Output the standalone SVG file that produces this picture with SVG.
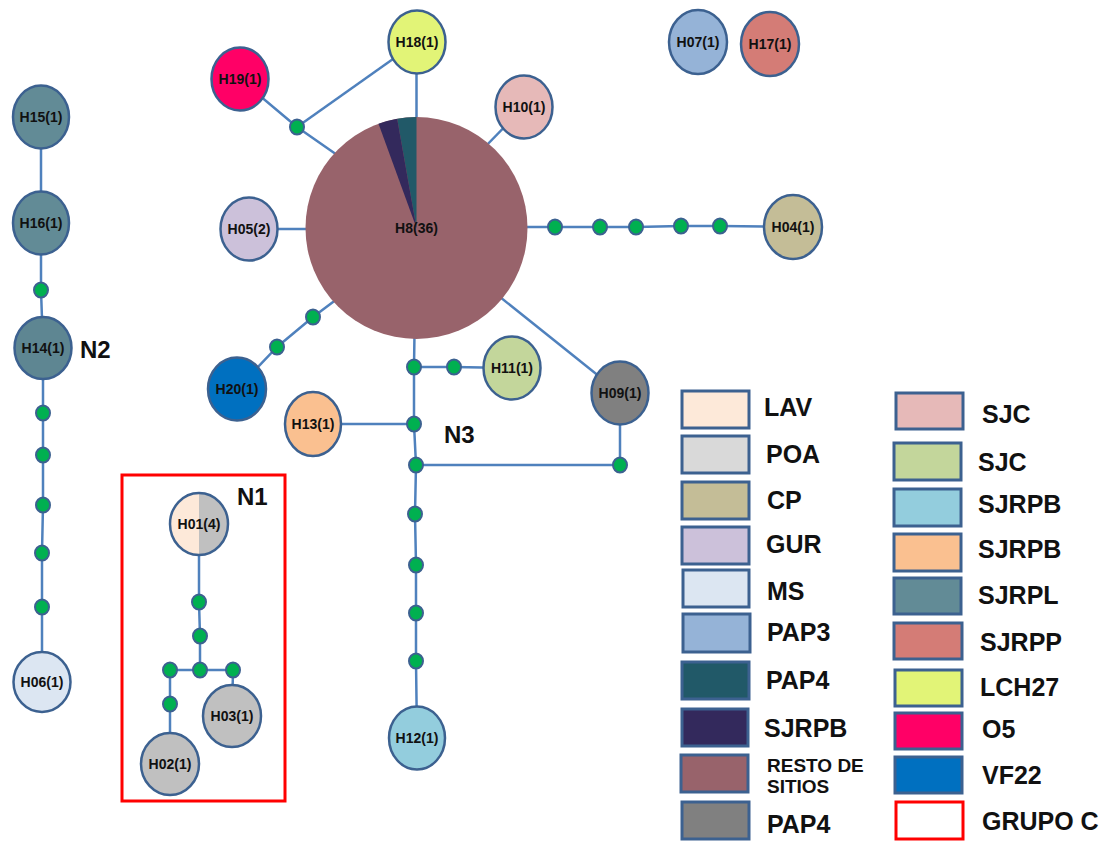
<svg xmlns="http://www.w3.org/2000/svg" width="1110" height="842" viewBox="0 0 1110 842">
<style>
.e{fill:none;stroke:#4f81bd;stroke-width:2.5;stroke-linejoin:round}
.n{stroke:#3c6190;stroke-width:2.5}
.d{fill:#00b050;stroke:#3c6190;stroke-width:2}
.t{font-family:"Liberation Sans",Arial,sans-serif;font-weight:bold;font-size:14px;fill:#111;text-anchor:middle}
.L{font-family:"Liberation Sans",Arial,sans-serif;font-weight:bold;font-size:25px;fill:#111}
.s{font-family:"Liberation Sans",Arial,sans-serif;font-weight:bold;font-size:19px;fill:#111}
.g{font-family:"Liberation Sans",Arial,sans-serif;font-weight:bold;font-size:24px;fill:#111}
.b{stroke:#3c6190;stroke-width:3}
</style>
<rect width="1110" height="842" fill="#fff"/>
<g id="connectors">
<polyline class="e" points="240,79 297,127 340,157"/>
<line class="e" x1="417" y1="42" x2="297" y2="127"/>
<line class="e" x1="416.5" y1="42" x2="416.5" y2="200"/>
<line class="e" x1="524" y1="107" x2="482" y2="150"/>
<line class="e" x1="249" y1="229" x2="330" y2="229"/>
<polyline class="e" points="500,227 555,227 600,227 636,227 681,226 720,226 793,227"/>
<polyline class="e" points="345,293 313,317 277,347 237,389"/>
<polyline class="e" points="415,300 414,367 414,424 416,465 415,514 416,565 416,613 416,661 417,738"/>
<polyline class="e" points="414,367 454,367 512,368"/>
<line class="e" x1="313" y1="424" x2="414" y2="424"/>
<polyline class="e" points="416,465 620,465 620,393"/>
<line class="e" x1="495" y1="293" x2="620" y2="393"/>
<polyline class="e" points="41,117 41,223 41,290 43,348 43,413 43,455 43,505 42,553 42,607 42,682"/>
<polyline class="e" points="199,524 199,602 200,636 200,670"/>
<polyline class="e" points="170,670 233,670"/>
<line class="e" x1="233" y1="670" x2="232" y2="716"/>
<polyline class="e" points="170,670 170,704 170,764"/>
</g>
<g id="median-vectors">
<ellipse class="d" cx="297" cy="127" rx="7" ry="7.5"/>
<ellipse class="d" cx="555" cy="227" rx="7" ry="7.5"/>
<ellipse class="d" cx="600" cy="227" rx="7" ry="7.5"/>
<ellipse class="d" cx="636" cy="227" rx="7" ry="7.5"/>
<ellipse class="d" cx="681" cy="226" rx="7" ry="7.5"/>
<ellipse class="d" cx="720" cy="226" rx="7" ry="7.5"/>
<ellipse class="d" cx="313" cy="317" rx="7" ry="7.5"/>
<ellipse class="d" cx="277" cy="347" rx="7" ry="7.5"/>
<ellipse class="d" cx="414" cy="367" rx="7" ry="7.5"/>
<ellipse class="d" cx="454" cy="367" rx="7" ry="7.5"/>
<ellipse class="d" cx="414" cy="424" rx="7" ry="7.5"/>
<ellipse class="d" cx="416" cy="465" rx="7" ry="7.5"/>
<ellipse class="d" cx="620" cy="465" rx="7" ry="7.5"/>
<ellipse class="d" cx="415" cy="514" rx="7" ry="7.5"/>
<ellipse class="d" cx="416" cy="565" rx="7" ry="7.5"/>
<ellipse class="d" cx="416" cy="613" rx="7" ry="7.5"/>
<ellipse class="d" cx="416" cy="661" rx="7" ry="7.5"/>
<ellipse class="d" cx="41" cy="290" rx="7" ry="7.5"/>
<ellipse class="d" cx="43" cy="413" rx="7" ry="7.5"/>
<ellipse class="d" cx="43" cy="455" rx="7" ry="7.5"/>
<ellipse class="d" cx="43" cy="505" rx="7" ry="7.5"/>
<ellipse class="d" cx="42" cy="553" rx="7" ry="7.5"/>
<ellipse class="d" cx="42" cy="607" rx="7" ry="7.5"/>
<ellipse class="d" cx="199" cy="602" rx="7" ry="7.5"/>
<ellipse class="d" cx="200" cy="636" rx="7" ry="7.5"/>
<ellipse class="d" cx="200" cy="670" rx="7" ry="7.5"/>
<ellipse class="d" cx="170" cy="670" rx="7" ry="7.5"/>
<ellipse class="d" cx="233" cy="670" rx="7" ry="7.5"/>
<ellipse class="d" cx="170" cy="704" rx="7" ry="7.5"/>
</g>
<g id="H8">
<circle cx="416.5" cy="228" r="111" fill="#98636b"/>
<path d="M416.5,228 L416.5,117 A111,111 0 0 0 397.2,118.7 Z" fill="#215968"/>
<path d="M416.5,228 L397.2,118.7 A111,111 0 0 0 378.5,123.7 Z" fill="#33295c"/>
<text class="t" x="416.5" y="233">H8(36)</text>
</g>
<g id="H18"><ellipse class="n" cx="417" cy="42" rx="28.5" ry="31.5" fill="#e2f477"/><text class="t" x="417" y="47">H18(1)</text></g>
<g id="H19"><ellipse class="n" cx="240" cy="79" rx="28.5" ry="31.5" fill="#ff0066"/><text class="t" x="240" y="84">H19(1)</text></g>
<g id="H10"><ellipse class="n" cx="524" cy="107" rx="28.5" ry="31.5" fill="#e6b9b8"/><text class="t" x="524" y="112">H10(1)</text></g>
<g id="H05"><ellipse class="n" cx="249" cy="229" rx="28.5" ry="31.5" fill="#ccc1da"/><text class="t" x="249" y="234">H05(2)</text></g>
<g id="H04"><ellipse class="n" cx="793" cy="227" rx="29" ry="32" fill="#c4bd97"/><text class="t" x="793" y="232">H04(1)</text></g>
<g id="H07"><ellipse class="n" cx="698" cy="42" rx="29" ry="32" fill="#95b3d7"/><text class="t" x="698" y="47">H07(1)</text></g>
<g id="H17"><ellipse class="n" cx="770" cy="44" rx="29" ry="32" fill="#d47c76"/><text class="t" x="770" y="49">H17(1)</text></g>
<g id="H11"><ellipse class="n" cx="512" cy="368" rx="28.5" ry="31.5" fill="#c3d69b"/><text class="t" x="512" y="373">H11(1)</text></g>
<g id="H09"><ellipse class="n" cx="620" cy="393" rx="28.5" ry="31.5" fill="#808080"/><text class="t" x="620" y="398">H09(1)</text></g>
<g id="H20"><ellipse class="n" cx="237" cy="389" rx="29" ry="31.5" fill="#0070c0"/><text class="t" x="237" y="394">H20(1)</text></g>
<g id="H13"><ellipse class="n" cx="313" cy="424" rx="28" ry="32" fill="#fac090"/><text class="t" x="313" y="429">H13(1)</text></g>
<g id="H12"><ellipse class="n" cx="417" cy="738" rx="28" ry="31.5" fill="#93cddd"/><text class="t" x="417" y="743">H12(1)</text></g>
<g id="H15"><ellipse class="n" cx="41" cy="117" rx="28" ry="31.5" fill="#628b96"/><text class="t" x="41" y="122">H15(1)</text></g>
<g id="H16"><ellipse class="n" cx="41" cy="223" rx="28" ry="31.5" fill="#628b96"/><text class="t" x="41" y="228">H16(1)</text></g>
<g id="H14"><ellipse class="n" cx="43" cy="348" rx="28.5" ry="31" fill="#5e8692"/><text class="t" x="43" y="353">H14(1)</text></g>
<g id="H06"><ellipse class="n" cx="42" cy="682" rx="28.5" ry="30" fill="#dce6f2"/><text class="t" x="42" y="687">H06(1)</text></g>
<g id="H01">
<path d="M199,493 A29,31 0 0 0 199,555 Z" fill="#fde9d9"/>
<path d="M199,493 A29,31 0 0 1 199,555 Z" fill="#c0c0c0"/>
<ellipse class="n" cx="199" cy="524" rx="29" ry="31" fill="none"/>
<text class="t" x="199" y="529">H01(4)</text>
</g>
<g id="H03"><ellipse class="n" cx="232" cy="716" rx="29" ry="31" fill="#c0c0c0"/><text class="t" x="232" y="721">H03(1)</text></g>
<g id="H02"><ellipse class="n" cx="170" cy="764" rx="29" ry="31" fill="#c0c0c0"/><text class="t" x="170" y="769">H02(1)</text></g>
<g id="groups">
<rect x="122" y="475" width="163" height="326" fill="none" stroke="#ff0000" stroke-width="3"/>
<text class="g" x="80" y="358">N2</text>
<text class="g" x="237" y="505">N1</text>
<text class="g" x="444" y="443">N3</text>
</g>
<g id="legend">
<rect class="b" x="682" y="391" width="67" height="37" fill="#fde9d9"/><text class="L" x="764" y="416">LAV</text>
<rect class="b" x="682" y="436" width="67" height="37" fill="#d9d9d9"/><text class="L" x="766" y="463">POA</text>
<rect class="b" x="682" y="482" width="67" height="37" fill="#c4bd97"/><text class="L" x="767" y="509">CP</text>
<rect class="b" x="682" y="527" width="67" height="37" fill="#ccc1da"/><text class="L" x="766" y="553">GUR</text>
<rect class="b" x="683" y="570" width="66" height="37" fill="#dce6f2"/><text class="L" x="767" y="600">MS</text>
<rect class="b" x="683" y="614" width="67" height="38" fill="#95b3d7"/><text class="L" x="767" y="641">PAP3</text>
<rect class="b" x="682" y="662" width="67" height="37" fill="#215968"/><text class="L" x="766" y="689">PAP4</text>
<rect class="b" x="682" y="709" width="66" height="37" fill="#33295c"/><text class="L" x="764" y="737">SJRPB</text>
<rect class="b" x="681" y="755" width="67" height="37" fill="#98636b"/><text class="s" x="767" y="772">RESTO DE</text><text class="s" x="767" y="793">SITIOS</text>
<rect class="b" x="682" y="802" width="67" height="37" fill="#808080"/><text class="L" x="767" y="833">PAP4</text>
<rect class="b" x="896" y="393" width="67" height="36" fill="#e6b9b8"/><text class="L" x="982" y="423">SJC</text>
<rect class="b" x="894" y="443" width="67" height="37" fill="#c3d69b"/><text class="L" x="978" y="471">SJC</text>
<rect class="b" x="894" y="489" width="67" height="37" fill="#93cddd"/><text class="L" x="978" y="513">SJRPB</text>
<rect class="b" x="894" y="534" width="67" height="37" fill="#fac090"/><text class="L" x="978" y="558">SJRPB</text>
<rect class="b" x="894" y="578" width="67" height="36" fill="#628b96"/><text class="L" x="978" y="604">SJRPL</text>
<rect class="b" x="894" y="623" width="68" height="36" fill="#d47c76"/><text class="L" x="980" y="651">SJRPP</text>
<rect class="b" x="895" y="670" width="67" height="36" fill="#e2f477"/><text class="L" x="980" y="696">LCH27</text>
<rect class="b" x="895" y="713" width="67" height="36" fill="#ff0066"/><text class="L" x="982" y="738">O5</text>
<rect class="b" x="895" y="757" width="67" height="36" fill="#0070c0"/><text class="L" x="982" y="784">VF22</text>
<rect x="896" y="802" width="67" height="37" fill="#fff" stroke="#ff0000" stroke-width="3"/><text class="L" x="982" y="830">GRUPO C</text>
</g>
</svg>
